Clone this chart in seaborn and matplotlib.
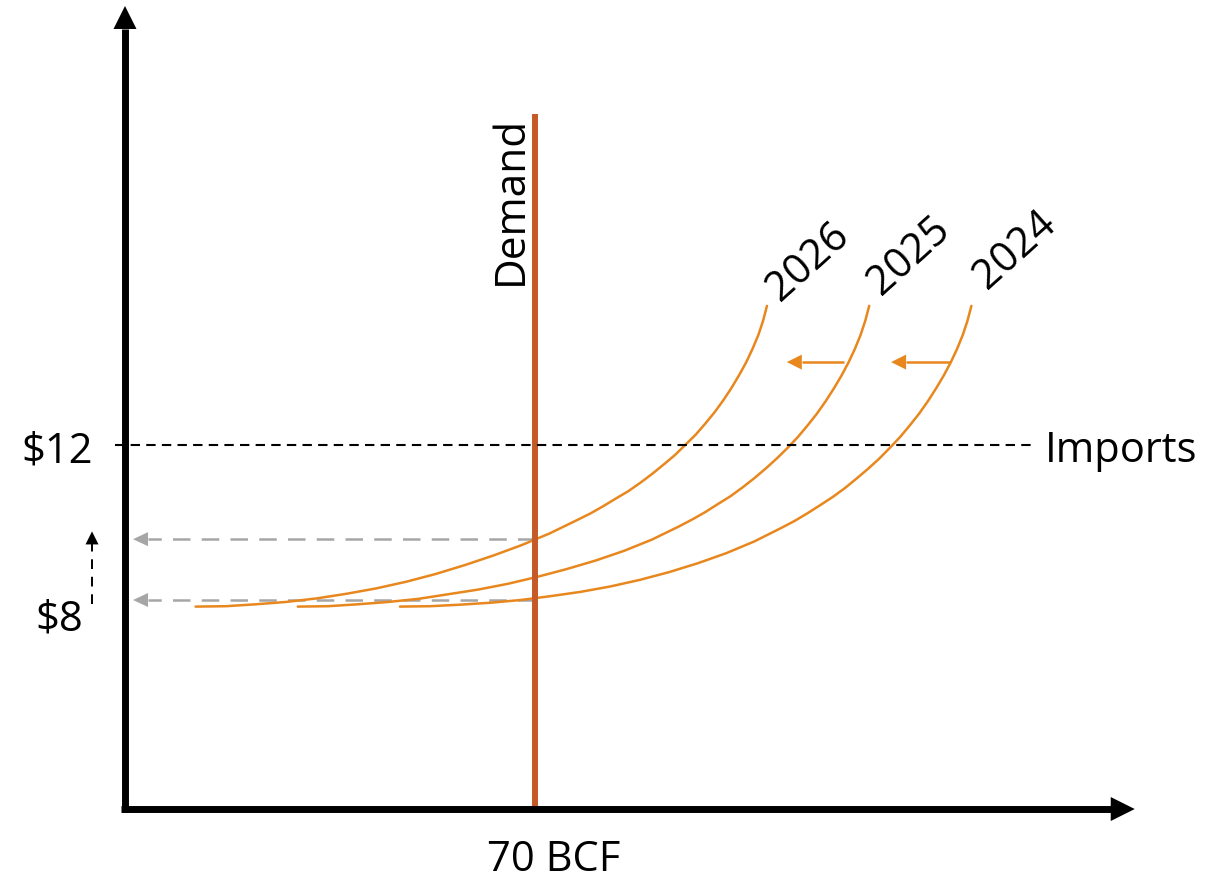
import numpy as np
import pandas as pd
import matplotlib
matplotlib.use("Agg")
import matplotlib.pyplot as plt
import seaborn as sns

# ---------------- data ----------------
YEARS = ["2024", "2025", "2026"]

BCF_2024 = [46.95, 52.11, 57.27, 62.42, 67.56, 72.68, 77.79, 82.88, 87.91, 92.90,
            97.83, 102.68, 107.43, 112.05, 114.32, 116.54, 118.72, 120.85, 122.93,
            124.95, 126.90, 128.79, 130.61, 132.36, 134.02, 135.59, 137.08, 138.48,
            139.78, 140.98, 142.07, 143.04, 143.85, 144.51]
PRICE_2024 = [7.83, 7.84, 7.88, 7.93, 8.00, 8.10, 8.21, 8.35, 8.52, 8.72,
              8.95, 9.21, 9.51, 9.86, 10.04, 10.24, 10.45, 10.66, 10.89,
              11.14, 11.39, 11.65, 11.93, 12.21, 12.51, 12.81, 13.13, 13.46,
              13.79, 14.13, 14.48, 14.84, 15.21, 15.59]

BCF_2025 = [29.50, 34.66, 39.82, 44.97, 50.11, 55.23, 60.34, 65.43, 70.46, 75.45,
            80.38, 85.23, 89.98, 94.60, 96.87, 99.09, 101.27, 103.40, 105.48,
            107.50, 109.45, 111.34, 113.16, 114.91, 116.57, 118.14, 119.63, 121.03,
            122.33, 123.53, 124.62, 125.59, 126.40, 127.06]
PRICE_2025 = [7.83, 7.84, 7.89, 7.95, 8.03, 8.15, 8.27, 8.42, 8.60, 8.80,
              9.02, 9.27, 9.56, 9.90, 10.08, 10.27, 10.48, 10.68, 10.91,
              11.15, 11.40, 11.66, 11.93, 12.21, 12.51, 12.81, 13.13, 13.46,
              13.79, 14.13, 14.48, 14.84, 15.21, 15.59]

BCF_2026 = [12.05, 17.21, 22.37, 27.52, 32.66, 37.78, 42.89, 47.98, 53.01, 58.00,
            62.93, 67.78, 72.53, 77.15, 79.42, 81.64, 83.82, 85.95, 88.03,
            90.05, 92.00, 93.89, 95.71, 97.46, 99.12, 100.69, 102.18, 103.58,
            104.88, 106.08, 107.17, 108.14, 108.95, 109.61]
PRICE_2026 = [7.83, 7.84, 7.89, 7.95, 8.04, 8.16, 8.30, 8.47, 8.67, 8.90,
              9.15, 9.42, 9.72, 10.06, 10.23, 10.42, 10.62, 10.81, 11.03,
              11.26, 11.50, 11.74, 12.01, 12.27, 12.56, 12.85, 13.16, 13.48,
              13.81, 14.14, 14.49, 14.84, 15.21, 15.59]

DEMAND_BCF = 70
DEMAND_TOP = 20.54
IMPORT_PRICE = 12
RESULT_PRICES = [9.57, 8.00]          # grey dashed arrows (2026 and 2024 clearing prices)
PRICE_TICKS = [12, 7.66]
PRICE_TICK_LABELS = ["$12", "$8"]
X_TICK_LABEL = "70 BCF"
SHIFT_ARROWS = [(122.8, 113.0), (140.9, 130.8)]   # (from, to) BCF
SHIFT_ARROW_PRICE = 14.14
YEAR_LABEL_POS = {"2026": (116.7, 16.75), "2025": (133.9, 16.90), "2024": (151.9, 17.06)}

# ---------------- styling ----------------
CURVE_COLOR = "#E8871E"
DEMAND_COLOR = "#C55A28"
GREY = "#A6A6A6"

sns.set_theme(style="white")
plt.rcParams["font.family"] = ["Open Sans", "DejaVu Sans"]
plt.rcParams["text.color"] = "black"

fig = plt.figure(figsize=(12.22, 8.79), dpi=100)
ax = fig.add_axes([0, 0, 1, 1])
XMIN, XMAX = -21.34, 187.3
YMIN, YMAX = 0.826, 23.51
ax.set_xlim(XMIN, XMAX)
ax.set_ylim(YMIN, YMAX)
ax.set_axis_off()

X_ORIGIN, Y_ORIGIN = 0.0, 2.606


def arrow(x0, y0, x1, y1, color, lw, ls, head_len_px, head_w_px, z=3):
    p0 = ax.transData.transform((x0, y0))
    p1 = ax.transData.transform((x1, y1))
    d = p1 - p0
    u = d / np.hypot(*d)
    base = p1 - u * head_len_px
    bx, by = ax.transData.inverted().transform(base)
    ax.plot([x0, bx], [y0, by], color=color, lw=lw, ls=ls,
            solid_capstyle="butt", dash_capstyle="butt", zorder=z)
    ax.annotate("", xy=(x1, y1), xytext=(bx, by),
                arrowprops=dict(arrowstyle=f"-|>,head_length={head_len_px*0.72},"
                                           f"head_width={head_w_px*0.72/2}",
                                mutation_scale=1, lw=0, color=color,
                                shrinkA=0, shrinkB=0), zorder=z)


# supply curves
df = pd.concat([
    pd.DataFrame({"bcf": BCF_2024, "price": PRICE_2024, "year": "2024"}),
    pd.DataFrame({"bcf": BCF_2025, "price": PRICE_2025, "year": "2025"}),
    pd.DataFrame({"bcf": BCF_2026, "price": PRICE_2026, "year": "2026"}),
])
sns.lineplot(data=df, x="bcf", y="price", hue="year", units="year",
             palette={y: CURVE_COLOR for y in YEARS}, sort=False, estimator=None,
             lw=1.8, legend=False, ax=ax, zorder=3.5)
for ln in ax.get_lines():
    ln.set_solid_joinstyle("round")
    ln.set_antialiased(True)
ax.set_axis_off()

# imports dashed line
ax.plot([-1.71, 154.9], [IMPORT_PRICE, IMPORT_PRICE], color="black", lw=1.5,
        ls=(0, (4.5, 3)), zorder=5.5)

# demand line
ax.plot([DEMAND_BCF, DEMAND_BCF], [2.55, DEMAND_TOP], color=DEMAND_COLOR, lw=4.3,
        solid_capstyle="butt", zorder=5)

# grey dashed result arrows
for p in RESULT_PRICES:
    arrow(DEMAND_BCF, p, 1.37, p, GREY, 1.8, (0, (7, 4.5)), 15, 14, z=3)

# small black dashed arrow near $8
arrow(-5.63, 7.90, -5.63, 9.77, "black", 1.4, (0, (5, 4)), 13, 13, z=3)

# shift arrows
for x_from, x_to in SHIFT_ARROWS:
    arrow(x_from, SHIFT_ARROW_PRICE, x_to, SHIFT_ARROW_PRICE, CURVE_COLOR, 1.8, "-", 15, 15)

# axes
arrow(X_ORIGIN, 2.53, X_ORIGIN, 23.33, "black", 5.0, "-", 23, 23, z=6)
arrow(-0.68, Y_ORIGIN, 172.4, Y_ORIGIN, "black", 5.0, "-", 24, 24, z=6)

FS = 30
# texts
ax.text(-5.42, PRICE_TICKS[0], PRICE_TICK_LABELS[0], fontsize=FS, ha="right",
        va="center_baseline", color="black")
ax.text(-7.17, PRICE_TICKS[1], PRICE_TICK_LABELS[1], fontsize=FS, ha="right",
        va="center_baseline", color="black")
ax.text(73.2, 1.45, X_TICK_LABEL, fontsize=FS, ha="center", va="center_baseline",
        color="black")
ax.text(157.1, IMPORT_PRICE, "Imports", fontsize=FS, ha="left", va="center_baseline",
        color="black")
ax.text(65.9, 18.35, "Demand", fontsize=30.5, ha="center", va="center", rotation=90,
        rotation_mode="anchor", color="black")
for yr in YEARS:
    x, y = YEAR_LABEL_POS[yr]
    ax.text(x, y, yr, fontsize=30, ha="center", va="center", rotation=42,
            rotation_mode="anchor", color="black")

fig.savefig("out.png", dpi=100, facecolor="white")
